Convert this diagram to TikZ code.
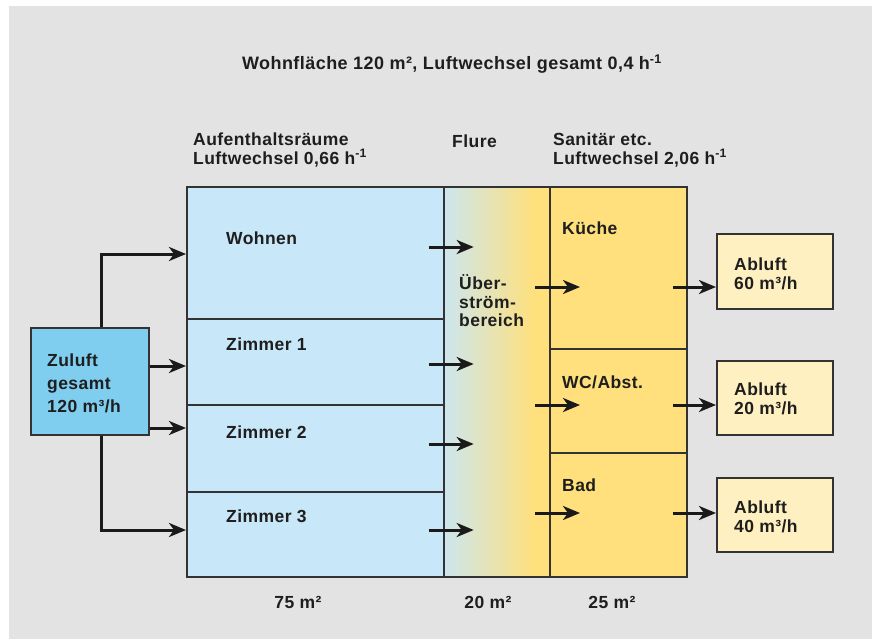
\documentclass[tikz,border=0pt]{standalone}
\usepackage{fontspec}
\setmainfont{Liberation Sans}[LetterSpace=2.5]
\usetikzlibrary{arrows.meta,positioning}

\definecolor{hintergrund}{HTML}{E2E3E2}
\definecolor{aufblau}{HTML}{C8E7F8}
\definecolor{zublau}{HTML}{7FCDEF}
\definecolor{sanigelb}{HTML}{FFE07C}
\definecolor{abgelb}{HTML}{FFF0C2}
\definecolor{rahmen}{HTML}{333333}
\definecolor{pfeilfarbe}{HTML}{1A1A1A}
\definecolor{schrift}{HTML}{1E1E1E}

% 走廊的渐变：左蓝右黄
\pgfdeclarehorizontalshading{flurverlauf}{100bp}{color(0bp)=(aufblau); color(25bp)=(aufblau!92!sanigelb);
  color(47bp)=(aufblau!45!sanigelb); color(68bp)=(sanigelb); color(100bp)=(sanigelb)}

\tikzset{
  raum/.style={draw=rahmen, line width=1.7pt, inner sep=0pt, anchor=north west},
  pfeil/.style={draw=pfeilfarbe, line width=3pt, -{Stealth[length=17pt, width=14pt, inset=5pt]}},
  beschriftung/.style={anchor=west, inner sep=0pt, align=left, text=schrift}
}

\begin{document}
\begin{tikzpicture}[x=1pt, y=-1pt, font=\fontsize{17.5}{18.5}\selectfont\bfseries]
    % 背景
    \useasboundingbox (0,0) rectangle (872,639);
    \fill[white] (0,0) rectangle (872,639);
    \fill[hintergrund] (9,6) rectangle (872,639);
    % 标题与栏目
    \node[anchor=center, inner sep=0pt, text=schrift, font=\fontsize{18}{20}\selectfont\bfseries] (titel) at (452,64)
      {Wohnfläche 120 m², Luftwechsel gesamt 0,4 h\textsuperscript{-1}};
    \node[beschriftung] (kopfauf) at (193,150) {Aufenthaltsräume\\Luftwechsel 0,66 h\textsuperscript{-1}};
    \node[beschriftung] (kopfflur) at (452,141) {Flure};
    \node[beschriftung] (kopfsan) at (553,150) {Sanitär etc.\\Luftwechsel 2,06 h\textsuperscript{-1}};
    % 房间
    \node[raum, fill=aufblau, minimum width=257pt, minimum height=132pt] (wohnen)  at (186,186) {};
    \node[raum, fill=aufblau, minimum width=257pt, minimum height=86pt]  (zimmer1) at (186,318) {};
    \node[raum, fill=aufblau, minimum width=257pt, minimum height=87pt]  (zimmer2) at (186,404) {};
    \node[raum, fill=aufblau, minimum width=257pt, minimum height=85pt]  (zimmer3) at (186,491) {};
    \node[raum, shade, shading=flurverlauf, minimum width=106pt, minimum height=390pt] (flure) at (443,186) {};
    \node[raum, fill=sanigelb, minimum width=137pt, minimum height=162pt] (kueche) at (549,186) {};
    \node[raum, fill=sanigelb, minimum width=137pt, minimum height=104pt] (wc)     at (549,348) {};
    \node[raum, fill=sanigelb, minimum width=137pt, minimum height=124pt] (bad)    at (549,452) {};
    % 送风与排风
    \node[raum, fill=zublau, minimum width=118pt, minimum height=107pt] (zuluft) at (30,327) {};
    \node[raum, fill=abgelb, minimum width=116pt, minimum height=75pt] (abluft1) at (716,233) {};
    \node[raum, fill=abgelb, minimum width=116pt, minimum height=74pt] (abluft2) at (716,360) {};
    \node[raum, fill=abgelb, minimum width=116pt, minimum height=74pt] (abluft3) at (716,477) {};
    % 房间文字
    \node[beschriftung] (lwohnen)  at (226,238) {Wohnen};
    \node[beschriftung] (lzimmer1) at (226,344) {Zimmer 1};
    \node[beschriftung] (lzimmer2) at (226,432) {Zimmer 2};
    \node[beschriftung] (lzimmer3) at (226,516) {Zimmer 3};
    \node[beschriftung] (lflure)   at (459,301) {Über-\\ström-\\bereich};
    \node[beschriftung] (lkueche)  at (562,228) {Küche};
    \node[beschriftung] (lwc)      at (562,382) {WC/Abst.};
    \node[beschriftung] (lbad)     at (562,485) {Bad};
    \node[beschriftung, font=\fontsize{17.5}{23}\selectfont\bfseries] (lzuluft) at (47,383)
      {Zuluft\\gesamt\\120 m³/h};
    \foreach \n/\w/\y in {abluft1/60/274, abluft2/20/399, abluft3/40/517}
      \node[beschriftung] (l\n) at (734,\y) {Abluft\\\w{} m³/h};
    % 面积
    \node[text=schrift] (flaeche1) at (298,602) {75 m²};
    \node[text=schrift] (flaeche2) at (488,602) {20 m²};
    \node[text=schrift] (flaeche3) at (612,602) {25 m²};
    % 箭头：送风
    \draw[pfeil] ([xshift=12pt]zuluft.north) |- (wohnen.west |- 0,254);
    \draw[pfeil] (zuluft.east |- 0,366) -- (zimmer1.west |- 0,366);
    \draw[pfeil] (zuluft.east |- 0,428) -- (zimmer2.west |- 0,428);
    \draw[pfeil] ([xshift=12pt]zuluft.south) |- (zimmer3.west |- 0,530);
    % 箭头：溢流到走廊
    \foreach \r/\y in {wohnen/247, zimmer1/364, zimmer2/444, zimmer3/530}
      \draw[pfeil] ([xshift=-16pt]\r.east |- 0,\y) -- ([xshift=29pt]\r.east |- 0,\y);
    % 箭头：走廊到卫生间，卫生间到排风
    \foreach \r/\a/\y in {kueche/abluft1/287, wc/abluft2/405, bad/abluft3/513} {
      \draw[pfeil] ([xshift=-14pt]\r.west |- 0,\y) -- ([xshift=31pt]\r.west |- 0,\y);
      \draw[pfeil] ([xshift=-15pt]\r.east |- 0,\y) -- (\a.west |- 0,\y);
    }
\end{tikzpicture}
\end{document}
